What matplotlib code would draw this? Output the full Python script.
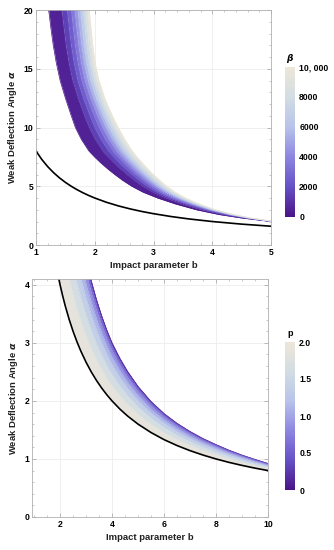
import matplotlib
matplotlib.use("Agg")
import matplotlib.pyplot as plt
from matplotlib.colors import LinearSegmentedColormap, Normalize
from matplotlib.ticker import MultipleLocator
import matplotlib.colorbar as mcolorbar

plt.rcParams['font.family'] = ['Liberation Sans', 'DejaVu Sans']
plt.rcParams['font.weight'] = 'bold'

# ---- top panel: impact parameter b read at fixed alpha, one list per beta ----
alpha_top = [22, 20, 18.5, 17, 15.5, 14, 12.5, 11, 10, 9, 8, 7.5, 7, 6.5, 6, 5.5, 5, 4.5, 4, 3.5, 3, 2.6, 2.3, 2.0, 1.8]
beta_vals = [0, 1000, 2000, 3000, 4000, 5000, 6000, 7000, 8000, 9000, 10000]
b_beta = [
    [1.175, 1.216, 1.252, 1.293, 1.345, 1.41, 1.50, 1.60, 1.67, 1.77, 1.90, 1.995, 2.10, 2.215, 2.34, 2.475, 2.63, 2.82, 3.07, 3.37, 3.73, 4.11, 4.50, 5.0, 5.44],
    [1.395, 1.434, 1.468, 1.505, 1.554, 1.619, 1.712, 1.821, 1.901, 2.004, 2.134, 2.224, 2.324, 2.431, 2.549, 2.676, 2.820, 2.994, 3.222, 3.500, 3.834, 4.189, 4.551, 5.016, 5.446],
    [1.486, 1.524, 1.557, 1.593, 1.640, 1.706, 1.799, 1.913, 1.996, 2.101, 2.231, 2.319, 2.417, 2.521, 2.635, 2.759, 2.898, 3.066, 3.285, 3.553, 3.878, 4.222, 4.572, 5.022, 5.449],
    [1.556, 1.594, 1.626, 1.661, 1.707, 1.773, 1.867, 1.984, 2.070, 2.176, 2.306, 2.392, 2.489, 2.590, 2.702, 2.823, 2.959, 3.121, 3.333, 3.595, 3.911, 4.247, 4.588, 5.027, 5.451],
    [1.614, 1.651, 1.684, 1.718, 1.762, 1.828, 1.923, 2.042, 2.131, 2.238, 2.368, 2.453, 2.549, 2.648, 2.757, 2.876, 3.009, 3.168, 3.373, 3.629, 3.939, 4.268, 4.601, 5.032, 5.453],
    [1.666, 1.703, 1.735, 1.768, 1.812, 1.878, 1.974, 2.095, 2.186, 2.293, 2.423, 2.508, 2.602, 2.699, 2.807, 2.924, 3.054, 3.209, 3.409, 3.660, 3.963, 4.287, 4.613, 5.035, 5.454],
    [1.714, 1.750, 1.781, 1.814, 1.857, 1.923, 2.019, 2.143, 2.236, 2.344, 2.474, 2.557, 2.650, 2.746, 2.852, 2.967, 3.095, 3.246, 3.442, 3.688, 3.986, 4.304, 4.624, 5.039, 5.456],
    [1.757, 1.793, 1.824, 1.855, 1.897, 1.964, 2.061, 2.186, 2.281, 2.389, 2.519, 2.602, 2.694, 2.788, 2.892, 3.006, 3.132, 3.280, 3.472, 3.713, 4.006, 4.319, 4.634, 5.042, 5.457],
    [1.796, 1.832, 1.863, 1.894, 1.935, 2.002, 2.099, 2.226, 2.323, 2.432, 2.562, 2.643, 2.735, 2.827, 2.930, 3.043, 3.166, 3.312, 3.499, 3.737, 4.025, 4.334, 4.643, 5.045, 5.458],
    [1.835, 1.870, 1.900, 1.931, 1.971, 2.038, 2.136, 2.264, 2.363, 2.472, 2.602, 2.683, 2.774, 2.865, 2.966, 3.078, 3.199, 3.342, 3.526, 3.759, 4.043, 4.347, 4.652, 5.047, 5.459],
    [1.87, 1.905, 1.935, 1.965, 2.005, 2.072, 2.17, 2.30, 2.40, 2.51, 2.64, 2.72, 2.81, 2.90, 3.00, 3.11, 3.23, 3.37, 3.55, 3.78, 4.06, 4.36, 4.66, 5.05, 5.46],
]
b_black_top = [1.0, 1.1, 1.2, 1.3, 1.4, 1.5, 1.6, 1.7, 1.8, 1.9, 2.0, 2.2, 2.4, 2.6, 2.8, 3.0, 3.3, 3.6, 4.0, 4.5, 5.0]
a_black_top = [8.0, 7.273, 6.667, 6.154, 5.714, 5.333, 5.0, 4.706, 4.444, 4.211, 4.0, 3.636, 3.333, 3.077, 2.857, 2.667, 2.424, 2.222, 2.0, 1.778, 1.6]

# ---- bottom panel: alpha read at fixed b, one list per p ----
b_bot = [1.8, 1.9, 2.0, 2.1, 2.2, 2.35, 2.5, 2.65, 2.8, 3.0, 3.2, 3.4, 3.6, 3.8, 4.0, 4.3, 4.6, 5.0, 5.5, 6.0, 6.5, 7.0, 7.5, 8.0, 8.5, 9.0, 9.5, 10.0]
p_vals = [0, 0.25, 0.5, 0.75, 1.0, 1.25, 1.5, 1.75, 2.0]
alpha_p = [
    [8.56, 8.0, 7.5, 7.05, 6.64, 6.11, 5.64, 5.23, 4.86, 4.433, 4.069, 3.747, 3.467, 3.218, 3.0, 2.735, 2.507, 2.25, 1.991, 1.783, 1.615, 1.474, 1.352, 1.2475, 1.151, 1.067, 0.992, 0.922],
    [8.497, 7.942, 7.446, 7.0, 6.594, 6.069, 5.603, 5.196, 4.829, 4.406, 4.045, 3.726, 3.448, 3.201, 2.985, 2.722, 2.495, 2.24, 1.983, 1.776, 1.609, 1.469, 1.348, 1.244, 1.148, 1.064, 0.99, 0.92],
    [8.307, 7.767, 7.285, 6.851, 6.456, 5.944, 5.49, 5.095, 4.737, 4.325, 3.973, 3.662, 3.391, 3.15, 2.939, 2.682, 2.461, 2.211, 1.959, 1.756, 1.592, 1.454, 1.335, 1.233, 1.139, 1.057, 0.983, 0.915],
    [7.991, 7.476, 7.016, 6.602, 6.225, 5.737, 5.304, 4.925, 4.584, 4.19, 3.854, 3.556, 3.297, 3.066, 2.864, 2.616, 2.403, 2.162, 1.919, 1.723, 1.564, 1.43, 1.314, 1.215, 1.123, 1.044, 0.973, 0.907],
    [7.548, 7.068, 6.64, 6.254, 5.903, 5.446, 5.042, 4.688, 4.37, 4.001, 3.686, 3.407, 3.164, 2.948, 2.757, 2.523, 2.321, 2.093, 1.862, 1.675, 1.523, 1.395, 1.285, 1.19, 1.102, 1.026, 0.958, 0.894],
    [6.978, 6.545, 6.156, 5.807, 5.488, 5.073, 4.706, 4.384, 4.094, 3.759, 3.471, 3.216, 2.994, 2.796, 2.621, 2.404, 2.217, 2.005, 1.79, 1.615, 1.472, 1.351, 1.247, 1.157, 1.074, 1.003, 0.938, 0.879],
    [6.282, 5.904, 5.565, 5.26, 4.981, 4.617, 4.294, 4.012, 3.757, 3.462, 3.208, 2.983, 2.786, 2.61, 2.454, 2.259, 2.09, 1.898, 1.701, 1.541, 1.409, 1.297, 1.201, 1.117, 1.041, 0.974, 0.915, 0.86],
    [5.46, 5.147, 4.866, 4.613, 4.382, 4.077, 3.809, 3.572, 3.359, 3.112, 2.897, 2.707, 2.54, 2.39, 2.257, 2.087, 1.939, 1.771, 1.597, 1.454, 1.335, 1.234, 1.146, 1.07, 1.001, 0.941, 0.887, 0.838],
    [4.511, 4.274, 4.06, 3.867, 3.691, 3.455, 3.248, 3.064, 2.9, 2.707, 2.538, 2.388, 2.256, 2.137, 2.03, 1.888, 1.765, 1.624, 1.476, 1.353, 1.249, 1.16, 1.083, 1.015, 0.955, 0.902, 0.855, 0.812],
]
a_black_bot = [4.444, 4.211, 4.0, 3.810, 3.636, 3.404, 3.2, 3.019, 2.857, 2.667, 2.5, 2.353, 2.222, 2.105, 2.0, 1.860, 1.739, 1.6, 1.455, 1.333, 1.231, 1.143, 1.067, 1.0, 0.941, 0.889, 0.842, 0.8]

cmap = LinearSegmentedColormap.from_list(
    "purple_beige", ['#4a1486', '#6650c6', '#8d86e0', '#b7c3ea', '#d2dde3', '#ede6d8'])

fig = plt.figure(figsize=(3.34, 5.5), dpi=100)
ax1 = fig.add_axes([0.1078, 0.5545, 0.7036, 0.4273])
ax2 = fig.add_axes([0.0958, 0.06, 0.7066, 0.4327])


def style(ax):
    for s in ax.spines.values():
        s.set_color('#b0b0b0')
        s.set_linewidth(0.6)
    ax.tick_params(which='both', direction='in', top=True, right=True,
                   color='#a0a0a0', labelsize=6.2, pad=2)
    ax.tick_params(which='major', length=3, width=0.5)
    ax.tick_params(which='minor', length=1.6, width=0.4)
    ax.grid(True, which='major', color='#ececec', linewidth=0.6)
    ax.set_axisbelow(True)


# top
style(ax1)
norm1 = Normalize(0, 10000)
ax1.plot(b_black_top, a_black_top, color='black', lw=1.2)
for i in range(len(b_beta) - 1):
    mid = 0.5 * (beta_vals[i] + beta_vals[i + 1])
    ax1.fill_betweenx(alpha_top, b_beta[i], b_beta[i + 1], color=cmap(norm1(mid)), linewidth=0)
for c, v in zip(b_beta, beta_vals):
    ax1.plot(c, alpha_top, color=cmap(norm1(v)), lw=0.5)
ax1.set_xlim(1, 5)
ax1.set_ylim(0, 20)
ax1.xaxis.set_major_locator(MultipleLocator(1))
ax1.xaxis.set_minor_locator(MultipleLocator(0.2))
ax1.yaxis.set_major_locator(MultipleLocator(5))
ax1.yaxis.set_minor_locator(MultipleLocator(1))
ax1.set_xlabel('Impact parameter b', fontsize=6.8, fontweight='bold', labelpad=3, color='#222222')
ax1.set_ylabel(r'Weak Deflection Angle $\alpha$', fontsize=6.8, fontweight='bold', labelpad=3, color='#222222')

# bottom
style(ax2)
norm2 = Normalize(0, 2)
for i in range(len(alpha_p) - 1):
    mid = 0.5 * (p_vals[i] + p_vals[i + 1])
    ax2.fill_between(b_bot, alpha_p[i + 1], alpha_p[i], color=cmap(norm2(mid)), linewidth=0)
for c, v in zip(alpha_p, p_vals):
    ax2.plot(b_bot, c, color=cmap(norm2(v)), lw=0.5)
ax2.plot(b_bot, a_black_bot, color='black', lw=1.2)
ax2.set_xlim(0.92, 10)
ax2.set_ylim(0, 4.1)
ax2.xaxis.set_major_locator(MultipleLocator(2))
ax2.xaxis.set_minor_locator(MultipleLocator(0.5))
ax2.yaxis.set_major_locator(MultipleLocator(1))
ax2.yaxis.set_minor_locator(MultipleLocator(0.2))
ax2.set_xlabel('Impact parameter b', fontsize=6.8, fontweight='bold', labelpad=3, color='#222222')
ax2.set_ylabel(r'Weak Deflection Angle $\alpha$', fontsize=6.8, fontweight='bold', labelpad=3, color='#222222')

# colorbars
cax1 = fig.add_axes([285 / 334, 1 - 217 / 550, 10 / 334, 150 / 550])
cb1 = mcolorbar.ColorbarBase(cax1, cmap=cmap, norm=norm1, ticks=[0, 2000, 4000, 6000, 8000, 10000])
cb1.ax.set_yticklabels(['0', '2000', '4000', '6000', '8000', '10, 000'])
cb1.outline.set_visible(False)
cb1.ax.tick_params(length=0, labelsize=6.2, pad=3)
cax1.set_title(r'$\beta$', fontsize=6.5, pad=4)

cax2 = fig.add_axes([285 / 334, 1 - 490 / 550, 10 / 334, 148 / 550])
cb2 = mcolorbar.ColorbarBase(cax2, cmap=cmap, norm=norm2, ticks=[0, 0.5, 1.0, 1.5, 2.0])
cb2.ax.set_yticklabels(['0', '0.5', '1.0', '1.5', '2.0'])
cb2.outline.set_visible(False)
cb2.ax.tick_params(length=0, labelsize=6.2, pad=3)
cax2.set_title('p', fontsize=6.5, pad=4, fontweight='bold')

fig.savefig('out.png', dpi=100)
